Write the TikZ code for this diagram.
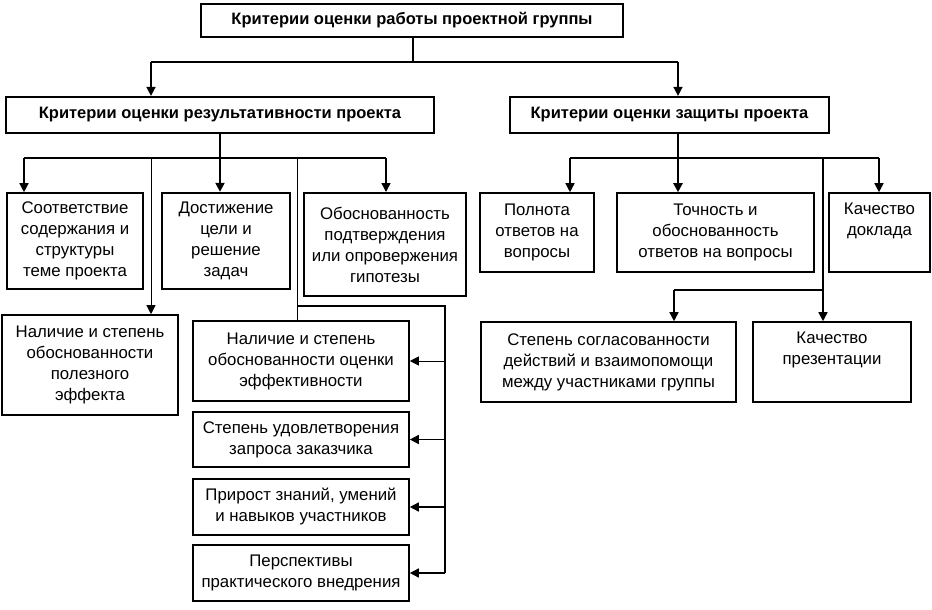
\documentclass[tikz,border=0pt]{standalone}
\usepackage{fontspec}
\setmainfont{Liberation Sans}
\usetikzlibrary{arrows.meta}
\begin{document}
\begin{tikzpicture}[x=1pt,y=-1pt,
  bx/.style={draw,line width=1.6pt,align=center,inner sep=0pt,font=\fontsize{16.8}{21}\selectfont},
  thickbx/.style={bx,line width=2.4pt},
  hd/.style={draw,line width=2.2pt,align=center,inner sep=0pt,font=\fontsize{16.5}{19}\selectfont\bfseries},
  ln/.style={line width=1.5pt},
  thickln/.style={line width=2.4pt},
  thinln/.style={line width=1pt},
  arr/.style={-{Triangle[length=9pt,width=9pt]}}
]
\useasboundingbox (0,0) rectangle (932,610);

% headings
\node[hd,line width=1.8pt,minimum width=422,minimum height=33] (top) at (412,20.5) {Критерии оценки работы проектной группы};
\node[hd,minimum width=428,minimum height=36] (L1) at (220,115) {Критерии оценки результативности проекта};
\node[hd,minimum width=319,minimum height=36] (R1) at (669.5,115) {Критерии оценки защиты проекта};

% left branch boxes
\node[bx,minimum width=136,minimum height=96] (B1) at (75,241) {Соответствие\\содержания и\\структуры\\теме проекта};
\node[thickbx,minimum width=128,minimum height=96] (B2) at (226,241) {Достижение\\цели и\\решение\\задач};
\node[bx,line width=2pt,minimum width=162,minimum height=103] (B3) at (385,244.5) {Обоснованность\\подтверждения\\или опровержения\\гипотезы};
\node[bx,minimum width=176,minimum height=100] (B4) at (90,365) {Наличие и степень\\обоснованности\\полезного\\эффекта};
\node[bx,minimum width=216,minimum height=80] (C1) at (301,361) {Наличие и степень\\обоснованности оценки\\эффективности};
\node[bx,minimum width=216,minimum height=55] (C2) at (301,439.5) {Степень удовлетворения\\запроса заказчика};
\node[bx,minimum width=216,minimum height=56] (C3) at (301,507) {Прирост знаний, умений\\и навыков участников};
\node[bx,minimum width=216,minimum height=56] (C4) at (301,573) {Перспективы\\практического внедрения};

% right branch boxes
\node[bx,minimum width=114,minimum height=79] (D1) at (537,232.5) {Полнота\\ответов на\\вопросы};
\node[bx,minimum width=197,minimum height=79] (D2) at (715.5,232.5) {Точность и\\обоснованность\\ответов на вопросы};
\node[bx,minimum width=101,minimum height=79] (D3) at (879.5,232.5) {Качество\\доклада\\\strut};
\node[bx,minimum width=255,minimum height=80] (E1) at (608.5,362) {Степень согласованности\\действий и взаимопомощи\\между участниками группы};
\node[bx,minimum width=158,minimum height=80] (E2) at (832,362) {Качество\\презентации\\\strut};

% junction coordinates
\coordinate (tj) at (413,62);
\coordinate (ta) at (151,62);
\coordinate (tb) at (678,62);
\coordinate (lj) at (220,158);
\coordinate (la) at (24,158);
\coordinate (lb) at (151,158);
\coordinate (lc) at (297,158);
\coordinate (ld) at (386,158);
\coordinate (bj) at (297,306);
\coordinate (bs) at (445,306);
\coordinate (be) at (445,573);
\coordinate (rj) at (678,158);
\coordinate (ra) at (570,158);
\coordinate (rb) at (879,158);
\coordinate (rc) at (823,158);
\coordinate (rd) at (823,290);
\coordinate (re) at (674,290);

% top level
\draw[thickln] (top.south -| tj) -- (tj);
\draw[ln] (ta) -- (tb);
\draw[ln,arr] (ta) -- (ta |- L1.north);
\draw[ln,arr] (tb) -- (tb |- R1.north);

% left level
\draw[thickln] (L1.south) -- (lj);
\draw[ln] (la) -- (ld);
\draw[ln,arr] (la) -- (la |- B1.north);
\draw[thickln,arr] (lj) -- (lj |- B2.north);
\draw[ln,arr] (ld) -- (ld |- B3.north);
\draw[thinln,arr] (lb) -- (lb |- B4.north);
\draw[thinln] (lc) -- (lc |- C1.north);
\draw[ln] (bj) -- (bs) -- (be);
\draw[thinln,arr] (bs |- C1.east) -- (C1.east);
\draw[ln,arr] (bs |- C2.east) -- (C2.east);
\draw[ln,arr] (bs |- C3.east) -- (C3.east);
\draw[ln,arr] (be) -- (be -| C4.east);

% right level
\draw[thickln] (rj |- R1.south) -- (rj);
\draw[ln] (ra) -- (rb);
\draw[ln,arr] (ra) -- (ra |- D1.north);
\draw[thickln,arr] (rj) -- (rj |- D2.north);
\draw[ln,arr] (rb) -- (rb |- D3.north);
\draw[ln,arr] (rc) -- (rc |- E2.north);
\draw[ln] (rd) -- (re);
\draw[ln,arr] (re) -- (re |- E1.north);
\end{tikzpicture}
\end{document}
